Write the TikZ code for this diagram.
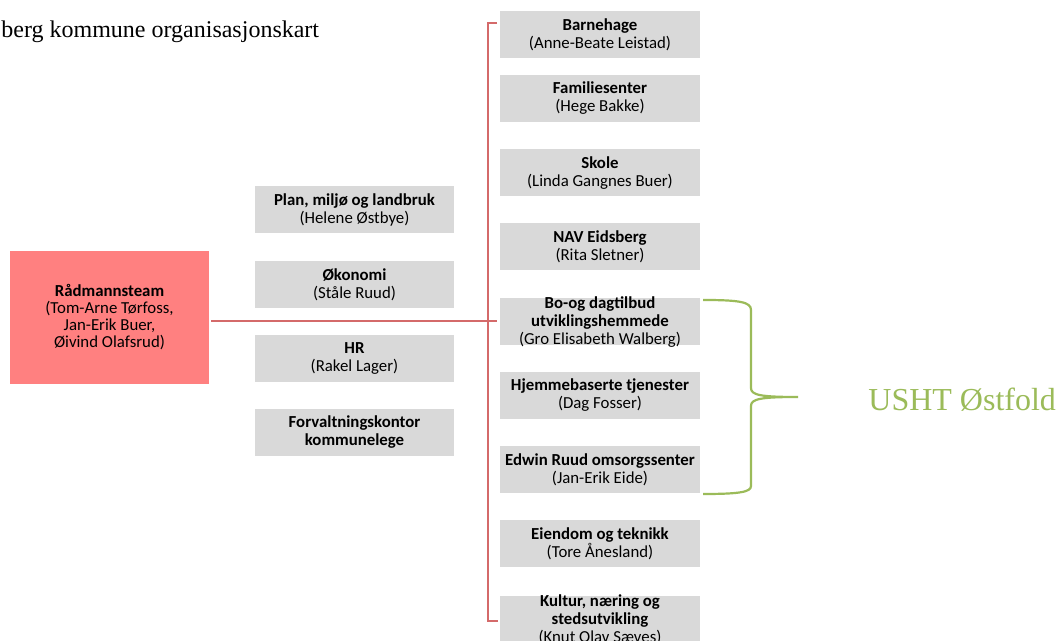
\documentclass[tikz,border=0pt]{standalone}
\usepackage{fontspec}
\usepackage{tikz}
\usetikzlibrary{positioning}
\newfontfamily\boxfont{Carlito}
\newfontfamily\titlefont{Liberation Serif}
\definecolor{graybox}{HTML}{D9D9D9}
\definecolor{raadred}{HTML}{FF8080}
\definecolor{linkred}{HTML}{D46A6A}
\definecolor{ushtgreen}{HTML}{9BBB59}

\begin{document}
\begin{tikzpicture}[x=0.5pt,y=-0.5pt]
\tikzstyle{block} = [rectangle, fill=graybox, inner sep=0pt, align=center,
minimum width=100pt, minimum height=23.5pt,
font=\boxfont\fontsize{8.4}{9}\selectfont]
\tikzstyle{block_mid} = [block, minimum width=99.5pt]
\tikzstyle{tight} = [inner ysep=-1.6pt]
\tikzstyle{block_red} = [block, fill=raadred, minimum width=99.5pt, minimum height=66.5pt,
font=\boxfont\fontsize{8.4}{8.5}\selectfont]
\tikzstyle{line} = [draw=linkred, line width=0.7pt]
\tikzstyle{brace} = [draw=ushtgreen, line width=1.1pt]

\useasboundingbox (0,0) rectangle (1057,641);
\clip (0,0) rectangle (1057,641);

\node [anchor=base west, inner sep=0pt, font=\titlefont\fontsize{12}{14}\selectfont]
  (title) at (1,38) {berg kommune organisasjonskart};

% left
\node [block_red] (raad) at (109.5,317.5) {\textbf{Rådmannsteam}\\(Tom-Arne Tørfoss,\\Jan-Erik Buer,\\Øivind Olafsrud)};

% middle column
\node [block_mid] (plan) at (354.5,209.5) {\textbf{Plan, miljø og landbruk}\\(Helene Østbye)};
\node [block_mid] (okonomi) at (354.5,284.5) {\textbf{Økonomi}\\(Ståle Ruud)};
\node [block_mid] (hr) at (354.5,358.5) {\textbf{HR}\\(Rakel Lager)};
\node [block_mid] (forvaltning) at (354.5,432.5) {\textbf{Forvaltningskontor}\\\textbf{kommunelege}};

% right column
\node [block] (barnehage) at (600,35) {\textbf{Barnehage}\\(Anne-Beate Leistad)};
\node [block] (familie) at (600,98.5) {\textbf{Familiesenter}\\(Hege Bakke)};
\node [block] (skole) at (600,173) {\textbf{Skole}\\(Linda Gangnes Buer)};
\node [block] (nav) at (600,247) {\textbf{NAV Eidsberg}\\(Rita Sletner)};
\node [block, tight] (bo) at (600,322) {\textbf{Bo-og dagtilbud}\\\textbf{utviklingshemmede}\\(Gro Elisabeth Walberg)};
\node [block] (hjemme) at (600,395.5) {\textbf{Hjemmebaserte tjenester}\\(Dag Fosser)};
\node [block] (edwin) at (600,469.5) {\textbf{Edwin Ruud omsorgssenter}\\(Jan-Erik Eide)};
\node [block] (eiendom) at (600,543.5) {\textbf{Eiendom og teknikk}\\(Tore Ånesland)};
\node [block, tight] (kultur) at (600,620) {\textbf{Kultur, næring og}\\\textbf{stedsutvikling}\\(Knut Olav Sæves)};

\node [anchor=base west, inner sep=0pt, text=ushtgreen, font=\titlefont\fontsize{16}{19}\selectfont]
  (usht) at (868,411) {USHT Østfold};

% connectors
\coordinate (hub) at (488,321);
\coordinate (hubend) at (497,321);
\coordinate (topend) at (497,23);
\coordinate (botend) at (498,621);
\path[line] ([xshift=1pt]raad.east |- hub) -- (hubend);
\path[line] (topend) -| (hub) |- (botend);

% brace
\coordinate (bracetop) at (703,300);
\coordinate (bracetip) at (798,397);
\coordinate (bracebot) at (703,494);
\path[brace] (bracetop) .. controls (740,300) and (751,302) .. (751,310) -- (751,388)
  .. controls (751,395) and (760,397) .. (bracetip)
  .. controls (760,397) and (751,399) .. (751,406) -- (751,486)
  .. controls (751,492) and (740,494) .. (bracebot);
\end{tikzpicture}
\end{document}
